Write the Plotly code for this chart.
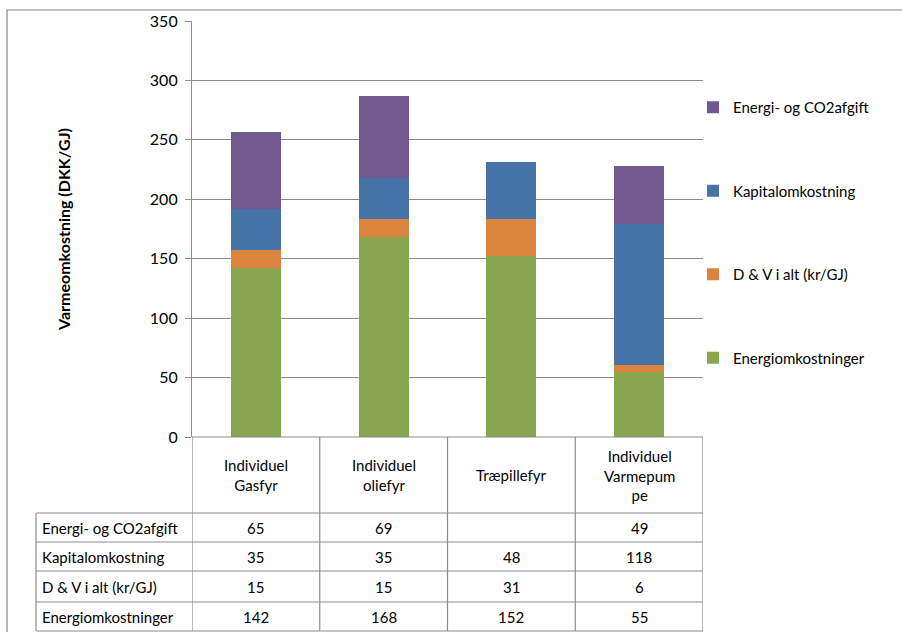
import plotly.graph_objects as go

categories = ["Individuel<br>Gasfyr", "Individuel<br>oliefyr", "Træpillefyr", "Individuel<br>Varmepum<br>pe"]
series_names = ["Energiomkostninger", "D & V i alt (kr/GJ)", "Kapitalomkostning", "Energi- og CO2afgift"]
energiomk = [142, 168, 152, 55]
dv = [15, 15, 31, 6]
kapital = [35, 35, 48, 118]
afgift = [65, 69, None, 49]
colors = ["#89A54E", "#DB843D", "#4572A7", "#71588F"]
y_ticks = [0, 50, 100, 150, 200, 250, 300, 350]

series_values = [energiomk, dv, kapital, afgift]
FONT = "Lato"
W, H = 902, 632
LINE = "#8C8C8C"

def py(pix):
    return 1 - pix / H

def px(pix):
    return pix / W

fig = go.Figure()
n = len(series_names)
for i, (name, vals, col) in enumerate(zip(series_names, series_values, colors)):
    fig.add_trace(go.Bar(
        x=categories, y=vals, name=name, marker=dict(color=col, line=dict(width=0)),
        legendgroup=name, legendrank=n - i,
    ))

plot_bottom = 437
plot_top = 21
row_lines = [513, 542, 571, 602, 631]

shapes = []
# outer border
shapes.append(dict(type="rect", xref="paper", yref="paper", x0=px(7), x1=px(920), y0=py(650), y1=py(10),
                   line=dict(color="#868686", width=1.2), fillcolor="rgba(0,0,0,0)", layer="below"))
# vertical table lines at category boundaries
bounds = [i - 0.5 for i in range(len(categories) + 1)]
for b in bounds:
    shapes.append(dict(type="line", xref="x", yref="paper", x0=b, x1=b, y0=py(plot_bottom), y1=py(631),
                       line=dict(color=LINE, width=1.2)))
# left edge of row-label column
shapes.append(dict(type="line", xref="paper", yref="paper", x0=px(36), x1=px(36), y0=py(row_lines[0]), y1=py(631),
                   line=dict(color=LINE, width=1.2)))
# horizontal table lines
for r in row_lines:
    shapes.append(dict(type="line", xref="paper", yref="paper", x0=px(36), x1=px(703),
                       y0=py(r), y1=py(r), line=dict(color=LINE, width=1.2)))
# x-axis line
shapes.append(dict(type="line", xref="x", yref="paper", x0=bounds[0], x1=bounds[-1], y0=py(plot_bottom), y1=py(plot_bottom),
                   line=dict(color=LINE, width=1.2)))

annotations = []
# header cells
header_center = (plot_bottom + row_lines[0]) / 2
for c in categories:
    annotations.append(dict(x=c, xref="x", y=py(header_center), yref="paper", text=c, showarrow=False,
                            font=dict(family=FONT, size=15, color="#000"), align="center",
                            xanchor="center", yanchor="middle"))
# data rows (top row = last series)
table_rows = list(zip(series_names, series_values))[::-1]
for i, (name, vals) in enumerate(table_rows):
    yc = py((row_lines[i] + row_lines[i + 1]) / 2)
    annotations.append(dict(x=px(40), xref="paper", y=yc, yref="paper", text=name, showarrow=False,
                            font=dict(family=FONT, size=15, color="#000"), xanchor="left", yanchor="middle"))
    for c, v in zip(categories, vals):
        if v is None:
            continue
        annotations.append(dict(x=c, xref="x", y=yc, yref="paper", text=str(v), showarrow=False,
                                font=dict(family=FONT, size=15, color="#000"), xanchor="center", yanchor="middle"))

fig.update_layout(
    width=W, height=H, autosize=False,
    margin=dict(l=0, r=0, t=0, b=0, autoexpand=False),
    paper_bgcolor="white", plot_bgcolor="white",
    barmode="stack", bargap=0.61,
    font=dict(family=FONT, size=15, color="#000"),
    xaxis=dict(domain=[px(192), px(703)], showticklabels=False, showgrid=False, showline=False,
               zeroline=False, ticks="", range=[-0.5, 3.5], automargin=False),
    yaxis=dict(domain=[py(plot_bottom), py(plot_top)], range=[0, 350], tickvals=y_ticks,
               showgrid=True, gridcolor=LINE, gridwidth=1.2, zeroline=False,
               showline=True, linecolor=LINE, linewidth=1.2, automargin=False,
               ticks="outside", ticklen=6, tickcolor=LINE, tickwidth=1.2, ticklabelstandoff=4,
               tickfont=dict(family=FONT, size=16, color="#000"),
               title=dict(text="<b>Varmeomkostning (DKK/GJ)</b>", font=dict(family=FONT, size=16, color="#000"),
                          standoff=75)),
    legend=dict(x=px(693), y=py(91), xanchor="left", yanchor="top", traceorder="grouped",
                tracegroupgap=61, font=dict(family=FONT, size=15, color="#000"), bgcolor="rgba(0,0,0,0)"),
    shapes=shapes,
    annotations=annotations,
)

fig.write_html("out.html", config={"displayModeBar": False},
               post_script="document.body.style.margin='0';document.body.style.overflow='hidden';")
